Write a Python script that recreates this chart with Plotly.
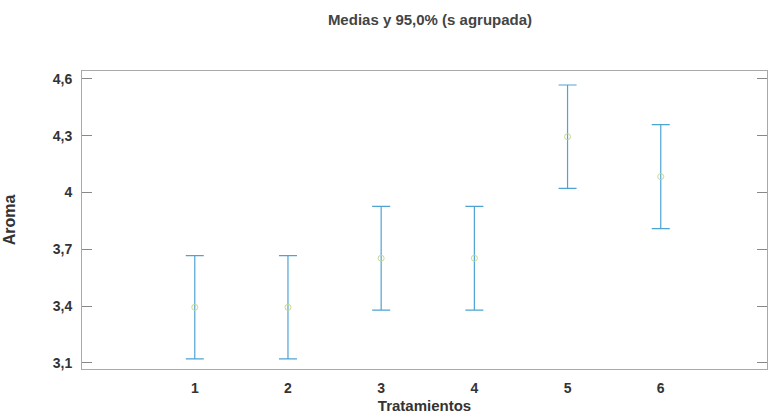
import plotly.graph_objects as go

tratamientos = [1, 2, 3, 4, 5, 6]
medias = [3.394, 3.394, 3.653, 3.653, 4.295, 4.084]
semi_intervalo = [0.273, 0.273, 0.274, 0.274, 0.273, 0.275]
y_ticks = [3.1, 3.4, 3.7, 4.0, 4.3, 4.6]
y_tick_labels = ["3,1", "3,4", "3,7", "4", "4,3", "4,6"]

fig = go.Figure()
fig.add_trace(go.Scatter(
    x=tratamientos, y=medias, mode="markers",
    marker=dict(symbol="circle-open", size=6, color="#c9d98f", line=dict(width=1)),
    error_y=dict(type="data", array=semi_intervalo, visible=True,
                 color="#4fa3d3", thickness=1.2, width=9),
    showlegend=False,
))

font = "Liberation Sans, Arial, sans-serif"
fig.update_layout(
    width=768, height=414,
    margin=dict(l=82, r=1, t=71, b=45),
    paper_bgcolor="white", plot_bgcolor="white",
    title=dict(text="<b>Medias y 95,0% (s agrupada)</b>", x=430 / 768, xanchor="center",
               xref="container", yref="container",
               y=1 - 20 / 414, yanchor="middle", automargin=False,
               font=dict(family=font, size=15, color="#444444")),
    font=dict(family=font, color="#333333"),
)
fig.update_xaxes(
    range=[-0.21, 7.14], tickvals=tratamientos,
    ticktext=[f"<b>{t}</b>" for t in tratamientos],
    tickfont=dict(size=14, color="#333333"),
    showgrid=False, zeroline=False, ticks="", ticklabelstandoff=6,
    showline=True, linecolor="#a8a8a8", linewidth=1, mirror=True,
    automargin=False,
    title=dict(text="<b>Tratamientos</b>", font=dict(size=15, color="#333333"), standoff=5),
)
fig.update_yaxes(
    range=[3.068, 4.642], tickvals=y_ticks,
    ticktext=[f"<b>{t}</b>" for t in y_tick_labels],
    tickfont=dict(size=14, color="#333333"),
    showgrid=False, zeroline=False,
    ticks="inside", ticklen=10, tickcolor="#888888", ticklabelstandoff=6,
    showline=True, linecolor="#a8a8a8", linewidth=1, mirror="ticks",
    automargin=False,
    title=dict(text="<b>Aroma</b>", font=dict(size=16, color="#333333"), standoff=33),
)

fig.write_html("out.html", config={"displayModeBar": False},
               post_script="document.body.style.margin='0';")
